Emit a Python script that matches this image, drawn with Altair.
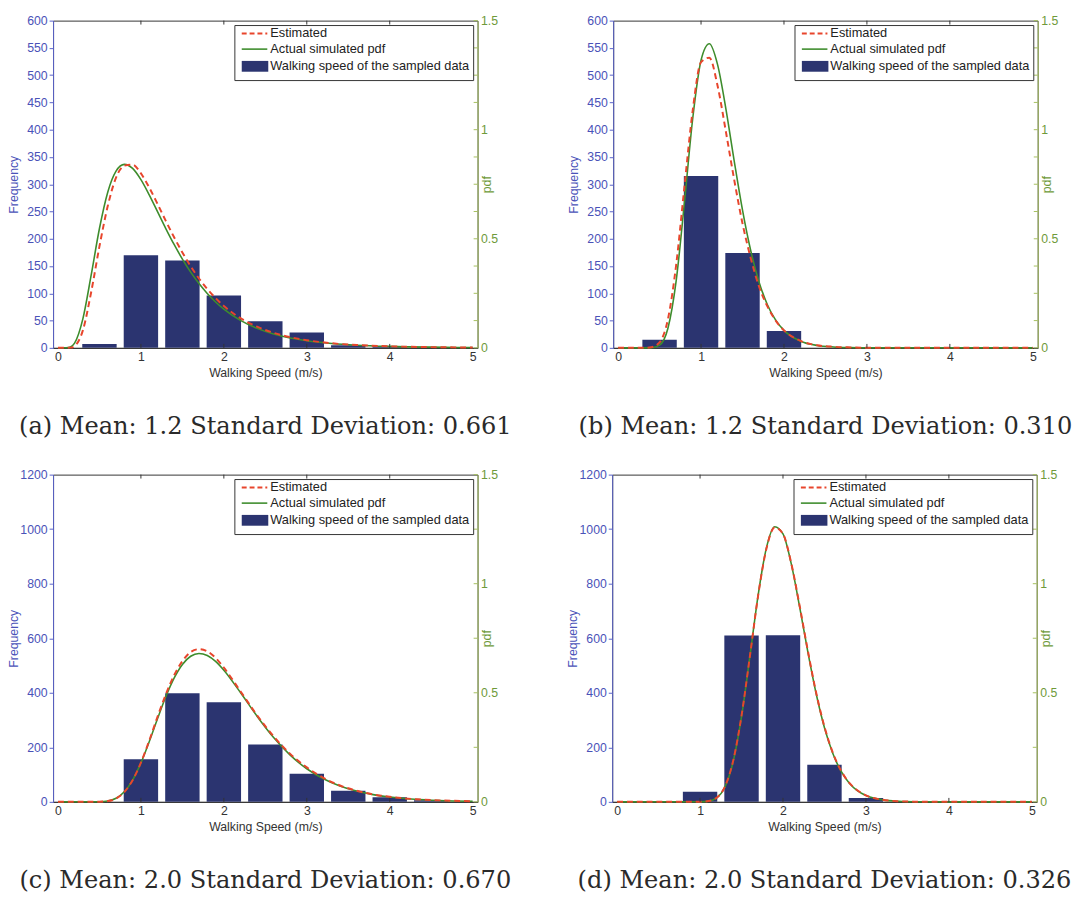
import altair as alt
import pandas as pd

# ---------------- data ----------------
captions = [
    "(a) Mean: 1.2 Standard Deviation: 0.661",
    "(b) Mean: 1.2 Standard Deviation: 0.310",
    "(c) Mean: 2.0 Standard Deviation: 0.670",
    "(d) Mean: 2.0 Standard Deviation: 0.326",
]

freq_max = [600, 600, 1200, 1200]
freq_step = [50, 50, 200, 200]
pdf_tick_a = [0, 0.125, 0.25, 0.375, 0.5, 0.625, 0.75, 0.875, 1.0, 1.125, 1.25, 1.375, 1.5]
pdf_tick_c = [0, 0.25, 0.5, 0.75, 1.0, 1.25, 1.5]
pdf_label_values = [0, 0.5, 1, 1.5]
x_tick_values = [0, 1, 2, 3, 4, 5]
inner_x_ticks = [1, 2, 3, 4]

bar_centers_a = [0.5, 1.0, 1.5, 2.0, 2.5, 3.0, 3.5, 4.0, 4.5]
bar_counts_a = [7, 170, 160, 96, 49, 28, 5, 3, 1]
bar_centers_b = [0.5, 1.0, 1.5, 2.0]
bar_counts_b = [15, 315, 174, 31]
bar_centers_c = [1.0, 1.5, 2.0, 2.5, 3.0, 3.5, 4.0, 4.5]
bar_counts_c = [156, 398, 365, 210, 103, 41, 17, 6]
bar_centers_d = [1.0, 1.5, 2.0, 2.5, 3.0]
bar_counts_d = [37, 610, 611, 136, 14]

speed_a = [0, 0.1, 0.15, 0.2, 0.3, 0.4, 0.5, 0.6, 0.7, 0.8, 0.9, 1.0, 1.1, 1.2, 1.3, 1.4,
           1.5, 1.6, 1.7, 1.8, 1.9, 2.0, 2.2, 2.4, 2.6, 2.8, 3.0, 3.3, 3.6, 4.0, 4.5, 5.0]
actual_a = [0, 0.0002, 0.004, 0.0215, 0.133, 0.333, 0.547, 0.7135, 0.810, 0.841, 0.8225,
            0.771, 0.7015, 0.6245, 0.547, 0.4738, 0.4068, 0.347, 0.2946, 0.2493, 0.2104,
            0.1774, 0.1258, 0.0892, 0.0634, 0.0452, 0.0324, 0.0199, 0.0123, 0.0067, 0.0032, 0.0016]
estimated_a = [0, 0, 0.001, 0.008, 0.08, 0.255, 0.465, 0.65, 0.78, 0.835, 0.84, 0.80, 0.735,
               0.66, 0.582, 0.507, 0.437, 0.374, 0.318, 0.27, 0.228, 0.192, 0.136, 0.097,
               0.069, 0.049, 0.035, 0.021, 0.013, 0.007, 0.0033, 0.0016]

speed_b = [0, 0.3, 0.4, 0.5, 0.6, 0.7, 0.8, 0.9, 1.0, 1.1, 1.2, 1.3, 1.4, 1.5, 1.6, 1.7,
           1.8, 1.9, 2.0, 2.2, 2.4, 2.6, 2.8, 3.0, 5.0]
actual_b = [0, 0, 0.0006, 0.0128, 0.089, 0.307, 0.668, 1.0526, 1.3186, 1.394, 1.2973,
            1.0947, 0.8564, 0.6312, 0.444, 0.3008, 0.1978, 0.127, 0.080, 0.0304, 0.0111,
            0.004, 0.0014, 0.0005, 0]
estimated_b = [0, 0, 0.003, 0.025, 0.13, 0.38, 0.74, 1.09, 1.31, 1.33, 1.2, 0.99, 0.77,
               0.57, 0.41, 0.28, 0.19, 0.125, 0.08, 0.032, 0.012, 0.005, 0.002, 0.0007, 0]

speed_c = [0, 0.5, 0.6, 0.7, 0.8, 0.9, 1.0, 1.1, 1.2, 1.3, 1.4, 1.5, 1.6, 1.7, 1.8, 1.9,
           2.0, 2.2, 2.4, 2.6, 2.8, 3.0, 3.2, 3.4, 3.6, 3.8, 4.0, 4.3, 4.6, 5.0]
actual_c = [0, 0.0006, 0.004, 0.0164, 0.0462, 0.0999, 0.1786, 0.2758, 0.381, 0.4816,
            0.5668, 0.6298, 0.6674, 0.6801, 0.6708, 0.6437, 0.6034, 0.5011, 0.3926, 0.2946,
            0.2139, 0.1517, 0.1056, 0.0725, 0.0493, 0.0332, 0.0223, 0.0122, 0.0066, 0.003]
estimated_c = [0, 0.0005, 0.0035, 0.015, 0.045, 0.099, 0.18, 0.28, 0.39, 0.492, 0.58,
               0.645, 0.687, 0.70, 0.69, 0.66, 0.615, 0.507, 0.397, 0.30, 0.22, 0.158,
               0.11, 0.075, 0.051, 0.034, 0.023, 0.0125, 0.0067, 0.003]

speed_d = [0, 1.0, 1.1, 1.2, 1.3, 1.4, 1.5, 1.6, 1.7, 1.8, 1.9, 2.0, 2.1, 2.2, 2.3, 2.4,
           2.5, 2.6, 2.7, 2.8, 2.9, 3.0, 3.2, 3.4, 3.6, 4.0, 5.0]
actual_d = [0, 0.0004, 0.0033, 0.0182, 0.0681, 0.1855, 0.3905, 0.6642, 0.947, 1.1641,
            1.2614, 1.228, 1.0906, 0.8948, 0.686, 0.4954, 0.3398, 0.2229, 0.1404, 0.0855,
            0.0505, 0.0291, 0.009, 0.0026, 0.0007, 0, 0]
estimated_d = [0, 0.0004, 0.0035, 0.019, 0.07, 0.19, 0.395, 0.665, 0.945, 1.16, 1.258,
               1.228, 1.093, 0.9, 0.692, 0.5, 0.344, 0.226, 0.143, 0.087, 0.052, 0.03,
               0.0095, 0.0028, 0.0008, 0, 0]

legend_labels = ["Estimated", "Actual simulated pdf", "Walking speed of the sampled data"]

# ---------------- styling ----------------
W, H = 432, 333
BLUE = "#4a52b8"
BLUE_AX = "#5a62c8"
GREEN_TXT = "#6f9a3a"
GREEN_AX = "#a5c05e"
GREEN_LINE = "#3d8c2c"
RED = "#e8452c"
BAR = "#2b3470"
DARK = "#333333"
SANS = "Liberation Sans"

panels = [
    (bar_centers_a, bar_counts_a, speed_a, actual_a, estimated_a, pdf_tick_a),
    (bar_centers_b, bar_counts_b, speed_b, actual_b, estimated_b, pdf_tick_a),
    (bar_centers_c, bar_counts_c, speed_c, actual_c, estimated_c, pdf_tick_c),
    (bar_centers_d, bar_counts_d, speed_d, actual_d, estimated_d, pdf_tick_c),
]


def make_panel(i):
    centers, counts, speed, actual, estimated, rticks = panels[i]
    ymax, ystep = freq_max[i], freq_step[i]

    x_scale = alt.Scale(domain=[0, 5], nice=False, zero=False)
    x_axis = alt.Axis(values=x_tick_values, title="Walking Speed (m/s)", ticks=False,
                      grid=False, labelColor=DARK, domainColor=DARK, labelFont=SANS,
                      labelFontSize=12.5, titleFont=SANS, titleFontSize=12.5,
                      titleFontWeight="normal", titleColor=DARK, labelPadding=3,
                      titlePadding=4, labelFlush=False)
    X = alt.X("speed:Q", scale=x_scale, axis=x_axis)

    pdf_scale = alt.Scale(domain=[0, 1.5], nice=False)
    pdf_axis = alt.Axis(orient="right", values=pdf_label_values, format="~g", title="pdf",
                        ticks=False, grid=False, labelColor=GREEN_TXT, domainColor=GREEN_AX,
                        titleColor=GREEN_TXT, labelFont=SANS, labelFontSize=12.5,
                        titleFont=SANS, titleFontSize=12.5, titleFontWeight="normal",
                        labelPadding=3, titlePadding=4, titleAngle=270, labelFlush=False,
                        minExtent=12, maxExtent=12)
    YP = alt.Y("pdf:Q", scale=pdf_scale, axis=pdf_axis)

    freq_axis = alt.Axis(values=list(range(0, ymax + 1, ystep)), format="d",
                         title="Frequency", grid=False, labelColor=BLUE,
                         domainColor=BLUE_AX, tickColor=BLUE_AX, titleColor=BLUE,
                         tickSize=4, labelFont=SANS, labelFontSize=12.5, titleFont=SANS,
                         titleFontSize=12.5, titleFontWeight="normal", labelPadding=2,
                         titlePadding=3, labelFlush=False, minExtent=30, maxExtent=30)

    bars = alt.Chart(pd.DataFrame({"speed": centers, "count": counts})).mark_bar(
        size=35, color=BAR, orient="vertical"
    ).encode(
        x=X,
        y=alt.Y("count:Q", scale=alt.Scale(domain=[0, ymax], nice=False), axis=freq_axis),
    )

    act = alt.Chart(pd.DataFrame({"speed": speed, "pdf": actual})).mark_line(
        color=GREEN_LINE, strokeWidth=1.6, interpolate="monotone"
    ).encode(x=X, y=YP)
    est = alt.Chart(pd.DataFrame({"speed": speed, "pdf": estimated})).mark_line(
        color=RED, strokeWidth=2, strokeDash=[6, 4], interpolate="monotone"
    ).encode(x=X, y=YP)
    rt = alt.Chart(pd.DataFrame({"pdf": rticks})).mark_rule(color=GREEN_AX).encode(
        y=YP, x=alt.value(W - 4), x2=alt.value(W)
    )
    pdf_layer = alt.layer(act, est, rt)

    xt_df = pd.DataFrame({"speed": inner_x_ticks})
    top_t = alt.Chart(xt_df).mark_rule(color=DARK).encode(x=X, y=alt.value(0), y2=alt.value(4))
    bot_t = alt.Chart(xt_df).mark_rule(color=DARK).encode(x=X, y=alt.value(H - 4), y2=alt.value(H))

    one = pd.DataFrame({"k": [0]})
    lg_box = alt.Chart(one).mark_rect(fill="white", stroke=DARK, strokeWidth=1).encode(
        x=alt.value(W - 247), x2=alt.value(W - 4), y=alt.value(5), y2=alt.value(61))
    lg_red = alt.Chart(one).mark_rule(color=RED, strokeWidth=2, strokeDash=[5, 3]).encode(
        x=alt.value(W - 240), x2=alt.value(W - 214), y=alt.value(13))
    lg_green = alt.Chart(one).mark_rule(color=GREEN_LINE, strokeWidth=1.6).encode(
        x=alt.value(W - 240), x2=alt.value(W - 214), y=alt.value(29))
    lg_bar = alt.Chart(one).mark_rect(color=BAR).encode(
        x=alt.value(W - 240), x2=alt.value(W - 213), y=alt.value(41), y2=alt.value(52))
    text_rows = [13, 29, 46]
    lg_texts = [
        alt.Chart(one).mark_text(
            align="left", baseline="middle", font=SANS, fontSize=13, color="#222"
        ).encode(text=alt.value(legend_labels[j]), x=alt.value(W - 211), y=alt.value(text_rows[j]))
        for j in range(3)
    ]

    return alt.layer(
        bars, pdf_layer, top_t, bot_t, lg_box, lg_red, lg_green, lg_bar, *lg_texts
    ).resolve_scale(y="independent").properties(
        width=W, height=H,
        title=alt.TitleParams(captions[i], orient="bottom", font="DejaVu Serif",
                              fontSize=24.5, fontWeight="normal", color="#2a2a2a",
                              offset=37, anchor="middle"),
    )


chart = alt.vconcat(
    alt.hconcat(make_panel(0), make_panel(1), spacing=55),
    alt.hconcat(make_panel(2), make_panel(3), spacing=55),
    spacing=29,
).properties(
    padding={"left": 7, "top": 6, "right": 5, "bottom": 5},
    background="white",
).configure_view(stroke=DARK, strokeWidth=1)

chart.save("out.html", embed_options={"renderer": "svg", "actions": False})
